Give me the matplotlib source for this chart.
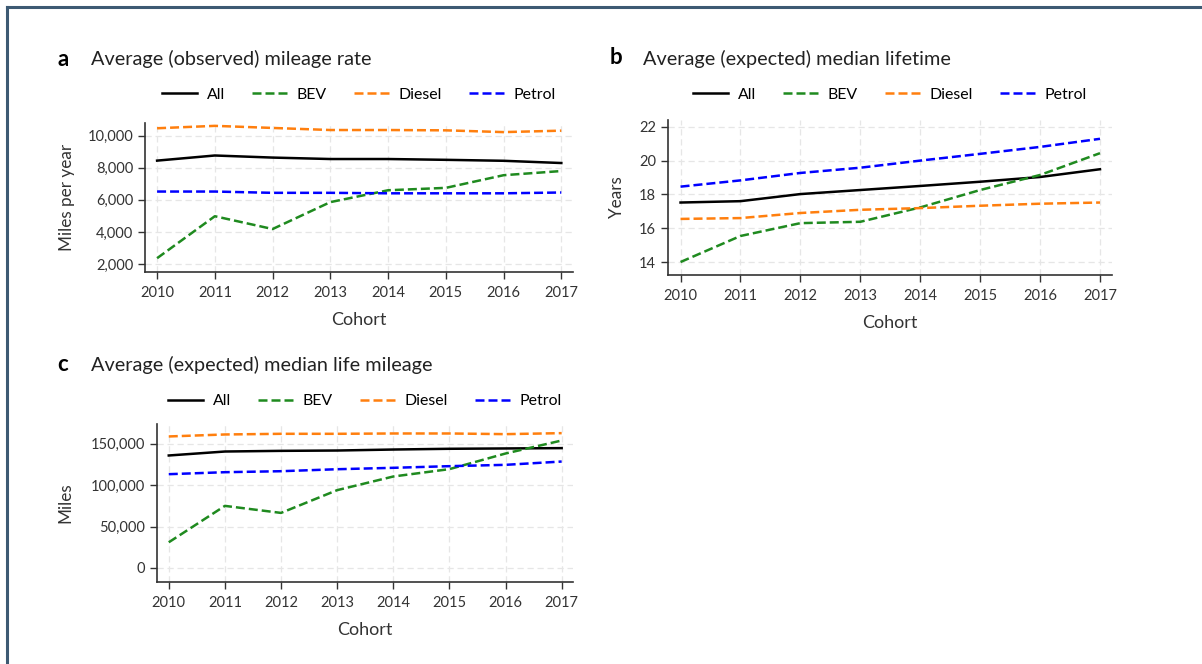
import numpy as np
import matplotlib.pyplot as plt
from matplotlib.lines import Line2D

plt.rcParams['font.family'] = ['Lato', 'DejaVu Sans']

years = [2010, 2011, 2012, 2013, 2014, 2015, 2016, 2017]
series = ['All', 'BEV', 'Diesel', 'Petrol']

# a: observed mileage rate (miles per year)
rate_all = [8450, 8770, 8640, 8550, 8550, 8500, 8440, 8300]
rate_bev = [2360, 4980, 4180, 5860, 6600, 6750, 7540, 7800]
rate_diesel = [10470, 10620, 10490, 10360, 10360, 10340, 10230, 10320]
rate_petrol = [6520, 6520, 6440, 6440, 6410, 6410, 6410, 6460]

# b: expected median lifetime (years)
life_all = [17.52, 17.6, 18.02, 18.26, 18.5, 18.75, 19.03, 19.49]
life_bev = [14.0, 15.54, 16.3, 16.38, 17.23, 18.26, 19.15, 20.44]
life_diesel = [16.55, 16.6, 16.9, 17.09, 17.19, 17.33, 17.45, 17.52]
life_petrol = [18.46, 18.83, 19.27, 19.58, 20.0, 20.4, 20.81, 21.29]

# c: expected median life mileage (miles)
miles_all = [135900, 140700, 141500, 141900, 143100, 144000, 144400, 144800]
miles_bev = [31000, 75000, 66500, 94000, 110500, 119400, 138300, 154000]
miles_diesel = [158900, 161300, 162100, 162100, 162500, 162500, 161700, 162900]
miles_petrol = [113300, 115700, 116900, 119300, 121000, 123000, 124600, 128600]

colors = {'All': 'black', 'BEV': '#1f8a1f', 'Diesel': '#ff7f0e', 'Petrol': '#0000ff'}
dash = (0, (3.6, 1.6))
styles = {'All': '-', 'BEV': dash, 'Diesel': dash, 'Petrol': dash}

fig = plt.figure(figsize=(12.02, 6.64), dpi=100)

def panel(rect, data, ylabel, ylim, yticks, fmt, legend_y, ylabel_x):
    ax = fig.add_axes(rect)
    handles = []
    for name, vals in zip(series, data):
        h, = ax.plot(years, vals, color=colors[name], linestyle=styles[name], lw=1.8)
        handles.append(h)
    ax.set_xticks(years)
    ax.set_yticks(yticks)
    ax.set_yticklabels([fmt(v) for v in yticks])
    ax.set_xlim(2009.79, 2017.2)
    ax.set_ylim(*ylim)
    ax.grid(True, color='#e6e6e6', linestyle=(0, (5, 3)), lw=0.9)
    ax.set_axisbelow(True)
    for s in ['top', 'right']:
        ax.spines[s].set_visible(False)
    for s in ['left', 'bottom']:
        ax.spines[s].set_color('#333333')
        ax.spines[s].set_linewidth(1.2)
    ax.tick_params(colors='#333333', labelsize=10.5, length=5, width=1)
    ax.tick_params(axis='x', pad=5)
    ax.set_xlabel('Cohort', fontsize=13, color='#333333', labelpad=9)
    ax.set_ylabel(ylabel, fontsize=12.3, color='#333333')
    ax.yaxis.set_label_coords(ylabel_x, 0.5)
    cx = rect[0] + rect[2] / 2
    ax.legend(handles, series, loc='center', bbox_to_anchor=(cx, 1 - legend_y / 664),
              bbox_transform=fig.transFigure, ncol=4, frameon=False, fontsize=11.4,
              handlelength=2.2, columnspacing=1.7, handletextpad=0.63)
    return ax

panel([0.1206, 0.5904, 0.356, 0.2244], [rate_all, rate_bev, rate_diesel, rate_petrol],
      'Miles per year', (1500, 10800), [2000, 4000, 6000, 8000, 10000], lambda v: f'{v:,}',
      95, -0.164)
panel([0.5557, 0.5858, 0.3694, 0.2334], [life_all, life_bev, life_diesel, life_petrol],
      'Years', (13.23, 22.4), [14, 16, 18, 20, 22], lambda v: f'{v}',
      95, -0.097)
panel([0.1306, 0.1235, 0.3460, 0.2380], [miles_all, miles_bev, miles_diesel, miles_petrol],
      'Miles', (-17000, 174000), [0, 50000, 100000, 150000], lambda v: f'{v:,}',
      401, -0.202)

fig.text(0.048, 0.911, 'a', fontsize=16, fontweight='bold', va='center')
fig.text(0.076, 0.911, 'Average (observed) mileage rate', fontsize=14.3, va='center', color='#222222')
fig.text(0.507, 0.914, 'b', fontsize=16, fontweight='bold', va='center')
fig.text(0.535, 0.911, 'Average (expected) median lifetime', fontsize=14.3, va='center', color='#222222')
fig.text(0.048, 0.451, 'c', fontsize=16, fontweight='bold', va='center')
fig.text(0.076, 0.451, 'Average (expected) median life mileage', fontsize=14.3, va='center', color='#222222')

# frame of the figure box
fig.add_artist(Line2D([0.0055, 0.0055], [0, 0.989], color='#3d5a73', lw=2.2, transform=fig.transFigure))
fig.add_artist(Line2D([0.0055, 1.0], [0.989, 0.989], color='#3d5a73', lw=2.2, transform=fig.transFigure))

fig.savefig('out.png', dpi=100)
